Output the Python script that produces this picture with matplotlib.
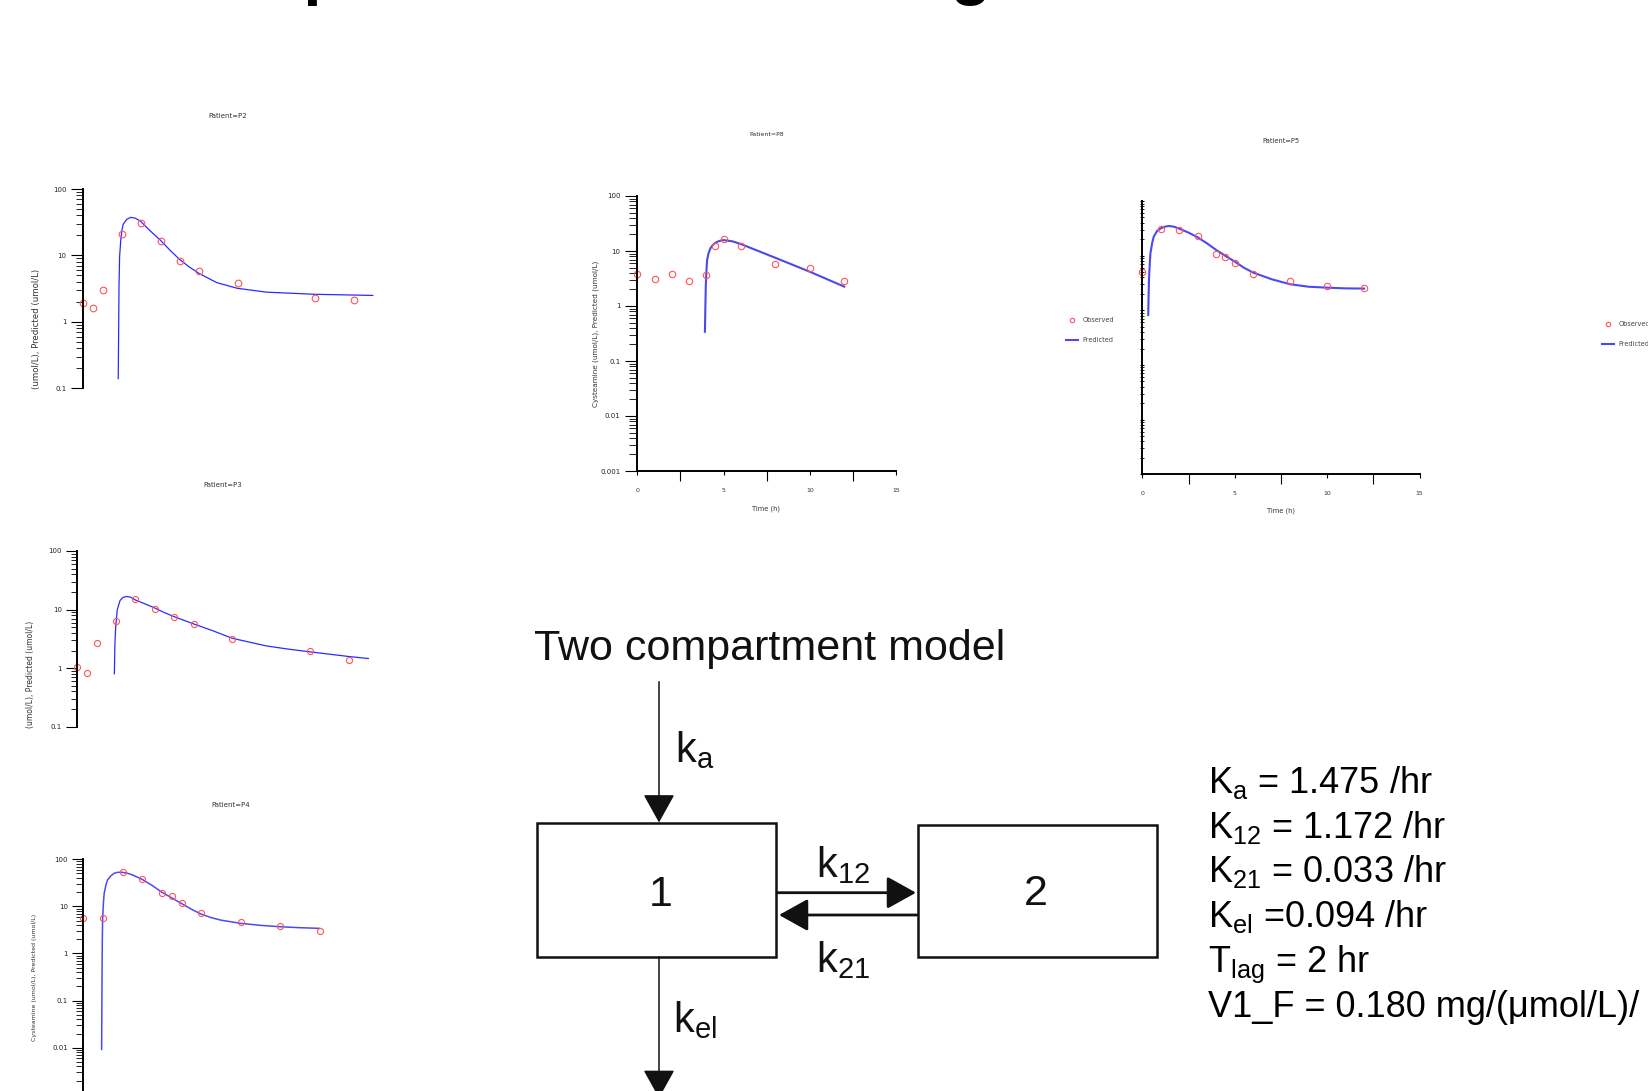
import matplotlib
matplotlib.use("Agg")
import matplotlib.pyplot as plt
from matplotlib.patches import Rectangle, FancyArrowPatch, ArrowStyle
from matplotlib.ticker import LogLocator, NullFormatter, FuncFormatter, MultipleLocator

W, H = 1649, 1091
plt.rcParams['font.family'] = ['Liberation Sans', 'DejaVu Sans']
SMALL = 'DejaVu Sans'

# ---- values: time (h), cysteamine (umol/L) ----
t_p2 = [0, 0.5, 1, 2, 3, 4, 5, 6, 8, 12, 14]
obs_p2 = [1.93, 1.6, 3.0, 21.2, 30.4, 16.6, 8.2, 5.9, 3.9, 2.3, 2.1]
tp_p2 = [1.81, 1.83, 1.85, 1.88, 1.94, 2.0, 2.07, 2.25, 2.45, 2.68, 2.94, 3.46, 3.99,
         4.49, 4.99, 5.49, 6.0, 6.91, 7.98, 9.5, 12, 15]
pred_p2 = [0.14, 0.67, 3.4, 9.5, 17, 24, 29.6, 34.9, 37.4, 36.5, 33.3, 23.5, 17,
           12.0, 8.7, 6.7, 5.35, 3.9, 3.2, 2.8, 2.6, 2.5]

t_p3 = [0, 0.5, 1, 2, 3, 4, 5, 6, 8, 12, 14]
obs_p3 = [1.04, 0.82, 2.7, 6.5, 15.0, 10.4, 7.5, 5.6, 3.16, 1.97, 1.39]
tp_p3 = [1.91, 1.94, 1.98, 2.06, 2.2, 2.34, 2.51, 2.72, 2.99, 3.49, 3.98, 4.48, 4.98,
         5.99, 7.0, 7.98, 9.73, 10.88, 11.98, 13.0, 13.99, 15.0]
pred_p3 = [0.80, 2.67, 5.1, 9.9, 14.2, 16.0, 16.7, 16.4, 14.6, 12.5, 10.7, 8.9, 7.6,
           5.7, 4.33, 3.24, 2.40, 2.11, 1.90, 1.73, 1.58, 1.46]

t_p4 = [0, 1, 2, 3, 4, 4.5, 5, 6, 8, 10, 12]
obs_p4 = [5.8, 5.8, 53.8, 38.8, 19.3, 16.6, 12.0, 7.1, 4.7, 3.8, 3.05]
tp_p4 = [0.93, 0.95, 0.965, 0.98, 1.02, 1.06, 1.15, 1.23, 1.41, 1.57, 1.74, 1.97, 2.25,
         2.5, 2.98, 3.49, 3.97, 4.47, 4.97, 5.47, 5.97, 6.48, 6.99, 7.98, 9.0, 9.99,
         11.0, 11.99]
pred_p4 = [0.0092, 0.27, 1.93, 5.1, 11.6, 19, 28.5, 36.4, 45, 50.5, 53, 53, 50.5,
           46.5, 37.6, 28, 20.2, 15.3, 11.6, 8.8, 6.9, 5.8, 5.1, 4.37, 3.96, 3.7,
           3.53, 3.42]

t_p8 = [0, 1, 2, 3, 4, 4.5, 5, 6, 8, 10, 12]
obs_p8 = [3.8, 3.05, 3.8, 2.85, 3.66, 12.3, 16.3, 12.3, 5.8, 4.85, 2.8]
tp_p8 = [3.92, 3.97, 4.01, 4.05, 4.13, 4.24, 4.38, 4.54, 4.75, 5.0, 5.51, 6.0, 7.97, 10.0, 12.0]
pred_p8 = [0.34, 2.25, 4.5, 6.9, 9.1, 11.2, 12.9, 14.2, 15.2, 15.8, 15.0, 13.4, 7.6, 4.2, 2.25]

t_p5 = [0, 1, 2, 3, 4, 4.5, 5, 6, 8, 10, 12]
obs_p5 = [5.1, 30.3, 29.1, 22.9, 10.9, 9.3, 7.45, 4.6, 3.5, 2.75, 2.56]
tp_p5 = [0.32, 0.34, 0.36, 0.40, 0.44, 0.53, 0.62, 0.80, 1.0, 1.22, 1.44, 1.71, 2.0,
         2.5, 3.0, 3.5, 4.0, 4.5, 5.0, 5.5, 6.0, 7.0, 8.0, 9.0, 10.0, 11.0, 12.0]
pred_p5 = [0.82, 1.78, 3.6, 6.7, 11, 16.8, 22.3, 28.3, 31.6, 33.9, 34.9, 33.9, 31.2,
           26.4, 21.6, 16.8, 12.7, 9.9, 7.8, 6.0, 4.9, 3.7, 3.0, 2.7, 2.6, 2.52, 2.5]

params = [r'$\mathregular{K_a}$ = 1.475 /hr',
          r'$\mathregular{K_{12}}$ = 1.172 /hr',
          r'$\mathregular{K_{21}}$ = 0.033 /hr',
          r'$\mathregular{K_{el}}$ =0.094 /hr',
          r'$\mathregular{T_{lag}}$ = 2 hr',
          'V1_F = 0.180 mg/(\u03bcmol/L)/']

fig = plt.figure(figsize=(W / 100, H / 100), dpi=100)
bg = fig.add_axes([0, 0, 1, 1])
bg.set_xlim(0, W)
bg.set_ylim(H, 0)
bg.axis('off')


def panel(box, xmax, ymin, t_obs, c_obs, t_pred, c_pred, ylabels=True, xaxis=False,
          major_len=9, minor_len=5, lc='#2b2bff', lw=0.9, ms=4.8, tick_dir='out',
          lowest_label=None):
    left, top, right, bottom = box
    ax = fig.add_axes([left / W, 1 - bottom / H, (right - left) / W, (bottom - top) / H])
    ax.patch.set_alpha(0)
    ax.set_yscale('log')
    ax.set_xlim(0, xmax)
    ax.set_ylim(ymin, 100)
    pred, = ax.plot(t_pred, c_pred, color=lc, lw=lw)
    obs, = ax.plot(t_obs, c_obs, 'o', mfc='none', mec='#ff5555', mew=0.8, ms=ms, clip_on=False)
    for s in ('top', 'right'):
        ax.spines[s].set_visible(False)
    ax.spines['left'].set_linewidth(1.4)
    ax.spines['bottom'].set_linewidth(1.4)
    ax.yaxis.set_major_locator(LogLocator(10, numticks=10))
    ax.yaxis.set_minor_locator(LogLocator(10, subs=range(2, 10), numticks=20))
    ax.yaxis.set_minor_formatter(NullFormatter())
    low = ymin if lowest_label is None else lowest_label
    if ylabels:
        ax.yaxis.set_major_formatter(FuncFormatter(lambda v, _: f'{v:g}' if v >= low * 0.99 else ''))
    else:
        ax.yaxis.set_major_formatter(NullFormatter())
    ax.tick_params(axis='y', which='major', length=major_len, width=0.8, labelsize=5,
                   pad=3, labelcolor='#222222', labelfontfamily=SMALL, direction=tick_dir)
    ax.tick_params(axis='y', which='minor', length=minor_len, width=0.6, direction=tick_dir)
    if xaxis:
        ax.xaxis.set_major_locator(MultipleLocator(5))
        ax.xaxis.set_minor_locator(MultipleLocator(2.5))
        ax.tick_params(axis='x', which='major', length=3, width=0.8, labelsize=4.5, pad=9,
                       labelcolor='#333333', labelfontfamily=SMALL)
        ax.tick_params(axis='x', which='minor', length=7, width=0.8)
    else:
        ax.spines['bottom'].set_visible(False)
        ax.tick_params(axis='x', which='both', bottom=False, labelbottom=False)
    return ax, obs, pred


# left column panels (cropped screenshots)
panel((83.3, 189, 382.5, 388.3), 15.5, 0.1, t_p2, obs_p2, tp_p2, pred_p2,
      major_len=9, minor_len=4.8)
panel((77.3, 551, 378, 726.7), 15.5, 0.1, t_p3, obs_p3, tp_p3, pred_p3,
      major_len=8, minor_len=4.5, ms=4.4)
panel((83.3, 859.3, 378.8, 1094.8), 15, 0.001, t_p4, obs_p4, tp_p4, pred_p4,
      major_len=8, minor_len=5, lc='#4a4af5', lw=1.1, ms=4.4, lowest_label=0.01)

# top row panels
ax8, o8, p8 = panel((637.3, 196, 896, 471), 15, 0.001, t_p8, obs_p8, tp_p8, pred_p8,
                    xaxis=True, major_len=9, minor_len=5.5, lc='#4a4ae6', lw=1.5, ms=4.6)
ax5, o5, p5 = panel((1142.3, 201, 1419.6, 474.3), 15, 0.001, t_p5, obs_p5, tp_p5, pred_p5,
                    ylabels=False, xaxis=True, major_len=3, minor_len=3, lc='#4a4af0',
                    lw=1.5, ms=4.6, tick_dir='inout')

for ax, p, o, anchor in ((ax8, p8, o8, (1066, 317)), (ax5, p5, o5, (1602, 321))):
    leg = ax.legend([o, p], ['Observed', 'Predicted'], loc='upper left',
                    bbox_to_anchor=anchor, bbox_transform=bg.transData, frameon=False,
                    prop={'family': SMALL, 'size': 4.7}, handlelength=1.9,
                    handletextpad=0.6, labelspacing=2.2, borderpad=0, borderaxespad=0,
                    markerscale=0.7)
    for txt in leg.get_texts():
        txt.set_color('#444444')

# panel captions and axis titles
small = dict(family=SMALL, color='#333333')
bg.text(228, 116, 'Patient=P2', fontsize=5, ha='center', va='center', **small)
bg.text(222.7, 485, 'Patient=P3', fontsize=5, ha='center', va='center', **small)
bg.text(231, 805, 'Patient=P4', fontsize=5, ha='center', va='center', **small)
bg.text(766.4, 135, 'Patient=P8', fontsize=4.5, ha='center', va='center', **small)
bg.text(1281.3, 140.7, 'Patient=P5', fontsize=4.8, ha='center', va='center', **small)
bg.text(766.4, 508.3, 'Time (h)', fontsize=4.8, ha='center', va='center', **small)
bg.text(1281, 510.7, 'Time (h)', fontsize=4.8, ha='center', va='center', **small)

bg.text(37, 328.5, '(umol/L), Predicted (umol/L)', fontsize=6.2, rotation=90,
        ha='center', va='center', **small)
bg.text(30.7, 674, '(umol/L), Predicted (umol/L)', fontsize=5.5, rotation=90,
        ha='center', va='center', **small)
bg.text(35, 977, 'Cysteamine (umol/L), Predicted (umol/L)', fontsize=4.5, rotation=90,
        ha='center', va='center', **small)
bg.text(596, 333.5, 'Cysteamine (umol/L), Predicted (umol/L)', fontsize=5.2, rotation=90,
        ha='center', va='center', **small)

# slide title, mostly above the visible area
bg.text(26, -6.5, 'Two compartment model fitting', fontsize=47, fontweight='bold',
        ha='left', va='baseline', color='black')

# two-compartment diagram
bg.text(534.5, 660, 'Two compartment model', fontsize=31, ha='left', va='baseline',
        color='#111111')
bg.add_patch(Rectangle((537.4, 823.3), 238.8, 133.4, fill=False, ec='#111111', lw=1.8))
bg.add_patch(Rectangle((918, 825), 239.5, 132.3, fill=False, ec='#111111', lw=1.8))
bg.text(661, 906, '1', fontsize=31, ha='center', va='baseline', color='#111111')
bg.text(1036, 905, '2', fontsize=31, ha='center', va='baseline', color='#111111')


def arrow(p0, p1, lw):
    bg.add_patch(FancyArrowPatch(p0, p1, arrowstyle=ArrowStyle('-|>', head_length=18, head_width=10),
                                 mutation_scale=1, lw=lw, color='#111111', shrinkA=0, shrinkB=0,
                                 transform=bg.transData))


arrow((659, 681.7), (659, 822.5), 1.1)
arrow((659, 956.7), (659, 1098), 1.1)
arrow((777, 892.7), (916, 892.7), 2.0)
arrow((917, 915), (779, 915), 2.0)

bg.text(675, 761.7, r'$\mathregular{k_a}$', fontsize=30, ha='left', va='baseline', color='#111111')
bg.text(816.4, 876.7, r'$\mathregular{k_{12}}$', fontsize=30, ha='left', va='baseline', color='#111111')
bg.text(816.4, 971.7, r'$\mathregular{k_{21}}$', fontsize=30, ha='left', va='baseline', color='#111111')
bg.text(673.4, 1031.7, r'$\mathregular{k_{el}}$', fontsize=30, ha='left', va='baseline', color='#111111')

# fitted parameters
baselines = [793.3, 838.3, 881.7, 926.7, 971.7, 1016.7]
for y, line in zip(baselines, params):
    bg.text(1208, y, line, fontsize=26, ha='left', va='baseline', color='black')

fig.savefig('out.png', dpi=100)
